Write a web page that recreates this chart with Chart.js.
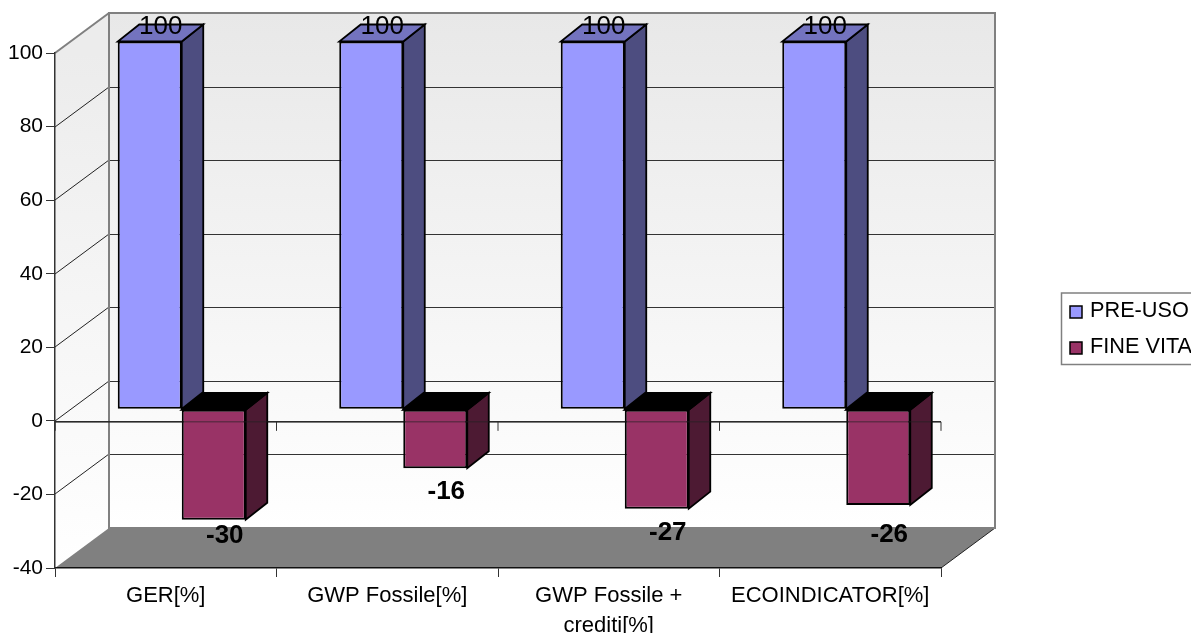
<!DOCTYPE html>
<html>
<head>
<meta charset="utf-8">
<title>Chart</title>
<script src="https://cdn.jsdelivr.net/npm/chart.js@4/dist/chart.umd.js"></script>
<style>
  html, body { margin: 0; padding: 0; background: #fff; overflow: hidden; }
  canvas { display: block; }
</style>
</head>
<body>
<canvas id="chart" width="1191" height="633"></canvas>
<script>
const categories = ["GER[%]", "GWP Fossile[%]", ["GWP Fossile +", "crediti[%]"], "ECOINDICATOR[%]"];
const preUso = [100, 100, 100, 100];
const fineVita = [-30, -16, -27, -26];
const seriesNames = ["PRE-USO", "FINE VITA"];

const FONT = '"Liberation Sans", Arial, sans-serif';
// fake 3d: wall depth, bar plane shift and bar depth in px
const wall = { dx: 54, dy: -40 };
const shift = { dx: 16, dy: -11.5 };
const depth = { dx: 21.5, dy: -17 };
const faces = [
  { side: "#4d4d80", top: "#7373bf" },
  { side: "#4d1a33", top: "#000000" }
];
const labelOffset = [[-14.5, -14.5, -14.5, -14.5], [16.5, 23.5, 24.5, 29.5]];

function poly(ctx, pts, fill, stroke, lw) {
  ctx.beginPath();
  pts.forEach((p, i) => i ? ctx.lineTo(p[0], p[1]) : ctx.moveTo(p[0], p[1]));
  ctx.closePath();
  if (fill) { ctx.fillStyle = fill; ctx.fill(); }
  if (stroke) { ctx.strokeStyle = stroke; ctx.lineWidth = lw || 1; ctx.stroke(); }
}

function line(ctx, x0, y0, x1, y1, color, lw) {
  ctx.beginPath();
  ctx.moveTo(x0, y0);
  ctx.lineTo(x1, y1);
  ctx.strokeStyle = color;
  ctx.lineWidth = lw || 1;
  ctx.stroke();
}

const plot3d = {
  id: "plot3d",
  // walls, floor and back grid
  beforeDraw(chart) {
    const { ctx, chartArea: a, scales: { y } } = chart;
    ctx.save();
    const bx0 = a.left + wall.dx, bx1 = a.right + wall.dx;
    const by0 = a.top + wall.dy, by1 = a.bottom + wall.dy;
    const g = ctx.createLinearGradient(0, by0, 0, by1);
    g.addColorStop(0, "#e8e8e8");
    g.addColorStop(1, "#ffffff");
    poly(ctx, [[bx0, by0], [bx1, by0], [bx1, by1], [bx0, by1]], g);
    const g2 = ctx.createLinearGradient(0, a.top, 0, a.bottom);
    g2.addColorStop(0, "#ececec");
    g2.addColorStop(1, "#ffffff");
    poly(ctx, [[a.left, a.top], [bx0, by0], [bx0, by1], [a.left, a.bottom]], g2);

    y.ticks.forEach(t => {
      const py = Math.round(y.getPixelForValue(t.value));
      if (t.value === y.min || t.value === y.max) return;
      line(ctx, a.left, py, bx0, py + wall.dy, "#222");
      line(ctx, bx0, py + wall.dy + 0.5, bx1, py + wall.dy + 0.5, "#333");
    });

    poly(ctx, [[a.left, a.bottom], [bx0, by1], [bx1, by1], [a.right, a.bottom]], "#808080");
    line(ctx, a.right, a.bottom, bx1, by1, "#222");
    line(ctx, a.left, a.top, bx0, by0, "#808080", 2);
    ctx.strokeStyle = "#808080";
    ctx.lineWidth = 2;
    ctx.strokeRect(bx0, by0, bx1 - bx0, by1 - by0);
    ctx.restore();
  },
  beforeDatasetsDraw(chart) {
    const { ctx, chartArea: a, scales: { x, y } } = chart;
    const zero = y.getPixelForValue(0) + 1;
    line(ctx, a.left, zero, a.right, zero, "#333", 1.5);
    x.ticks.forEach((t, i) => {
      const gx = a.left + (a.right - a.left) * (i + 1) / x.ticks.length;
      line(ctx, gx, zero, gx, zero + 9, "#333");
    });
    line(ctx, a.left, zero, a.left, zero + 9, "#333", 1.5);

    // everything bar-related sits on a plane behind the axis
    ctx.save();
    ctx.translate(shift.dx, shift.dy);
    chart.data.datasets.forEach((ds, i) => {
      chart.getDatasetMeta(i).data.forEach(bar => {
        const x0 = bar.x - bar.width / 2, x1 = bar.x + bar.width / 2;
        const top = Math.min(bar.y, bar.base), bot = Math.max(bar.y, bar.base);
        poly(ctx, [[x1, top], [x1 + depth.dx, top + depth.dy], [x1 + depth.dx, bot + depth.dy], [x1, bot]], faces[i].side, "#000", 1.8);
        poly(ctx, [[x0, top], [x1, top], [x1 + depth.dx, top + depth.dy], [x0 + depth.dx, top + depth.dy]], faces[i].top, "#000", 1.8);
      });
    });
  },
  afterDatasetsDraw(chart) {
    const { ctx, chartArea: a, scales: { y } } = chart;
    ctx.restore();
    const zero = y.getPixelForValue(0) + 1;
    line(ctx, a.left, zero, a.right, zero, "rgba(30,30,30,0.45)", 1.5);

    // value labels
    ctx.save();
    ctx.textAlign = "center";
    ctx.textBaseline = "middle";
    ctx.fillStyle = "#000";
    chart.data.datasets.forEach((ds, i) => {
      chart.getDatasetMeta(i).data.forEach((bar, j) => {
        const v = ds.data[j];
        ctx.font = (v < 0 ? "bold " : "") + "26px " + FONT;
        ctx.fillText(String(v), bar.x + shift.dx + 11, bar.y + shift.dy + labelOffset[i][j]);
      });
    });
    ctx.restore();

    // legend box runs off the right edge like the original
    ctx.save();
    ctx.fillStyle = "#fff";
    ctx.strokeStyle = "#808080";
    ctx.lineWidth = 1.5;
    ctx.fillRect(1061.5, 293, 140, 71.5);
    ctx.strokeRect(1061.5, 293, 140, 71.5);
    ctx.font = "21.7px " + FONT;
    ctx.textBaseline = "middle";
    ctx.textAlign = "left";
    chart.data.datasets.forEach((ds, i) => {
      const cy = 312 + i * 36;
      ctx.fillStyle = ds.backgroundColor;
      ctx.fillRect(1070, cy - 6, 12, 12);
      ctx.strokeStyle = "#000";
      ctx.lineWidth = 1.5;
      ctx.strokeRect(1070, cy - 6, 12, 12);
      ctx.fillStyle = "#000";
      ctx.fillText(ds.label, 1090, cy - 1);
    });
    ctx.restore();
  }
};

new Chart(document.getElementById("chart"), {
  type: "bar",
  plugins: [plot3d],
  data: {
    labels: categories,
    datasets: [
      { label: seriesNames[0], data: preUso, backgroundColor: "#9999ff", borderColor: "#000", borderWidth: 2, borderSkipped: false, clip: false },
      { label: seriesNames[1], data: fineVita, backgroundColor: "#993366", borderColor: "#000", borderWidth: 2, borderSkipped: false, clip: false }
    ]
  },
  options: {
    responsive: false,
    animation: false,
    layout: { padding: { top: 53, right: 250, bottom: 0, left: 0 } },
    datasets: { bar: { barPercentage: 1, categoryPercentage: 0.578 } },
    plugins: { legend: { display: false }, tooltip: { enabled: false } },
    scales: {
      x: {
        grid: { drawOnChartArea: false, tickLength: 9, color: "#333", offset: true },
        border: { color: "#111", width: 1.5 },
        ticks: { color: "#000", padding: 4, maxRotation: 0, autoSkip: false, font: { family: FONT, size: 22, lineHeight: 1.36 } },
        afterFit(s) { s.height = 65; }
      },
      y: {
        min: -40,
        max: 100,
        grid: { drawOnChartArea: false, tickLength: 9, color: "#333" },
        border: { color: "#333", width: 1.5 },
        ticks: { stepSize: 20, color: "#000", padding: 3, font: { family: FONT, size: 21 } },
        afterFit(s) { s.width = 55; }
      }
    }
  }
});
</script>
</body>
</html>
